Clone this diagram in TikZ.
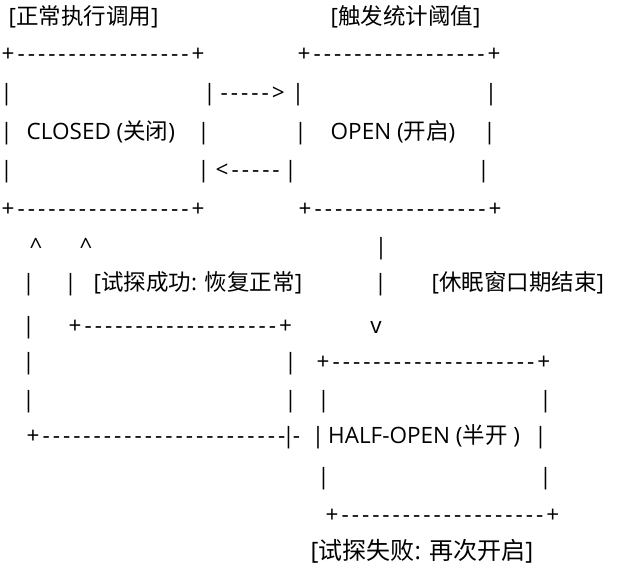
\documentclass[tikz,border=0pt]{standalone}
\usepackage{fontspec}
\usepackage{tikz}
\newfontfamily\latin{Open Sans}
\newfontfamily\zh{Noto Sans CJK SC}
\newfontfamily\rulefont[LetterSpace=13.3]{Open Sans}
\newcommand\sz{\fontsize{22.5}{27}\selectfont}
\newcommand\vb{\makebox[2pt]{|}}
\tikzset{
  txt/.style={anchor=base west, inner sep=0pt, font=\latin\sz},
  caret/.style={anchor=base, inner sep=0pt, font=\latin\sz},
  vbar/.style={anchor=base, inner sep=0pt, font=\latin\sz},
  rule/.style={anchor=base west, inner sep=0pt, font=\rulefont\sz},
}

\begin{document}
\begin{tikzpicture}[x=1pt,y=-1pt]
	\useasboundingbox (0,0) rectangle (625,579);
	
	% notes on top
	\node[txt] (callnote) at (8.5,24) {[{\zh 正常执行调用}]};
	\node[txt] (tripnote) at (330.5,24) {[{\zh 触发统计阈值}]};
	
	% CLOSED and OPEN boxes
	\node[rule] (closedtop) at (1.5,61) {+-----------------+};
	\node[rule] (opentop) at (297.5,61) {+-----------------+};
	\node[vbar] (cl1) at (6.5,100) {\vb};
	\node[vbar] (cr1) at (209.5,100) {\vb};
	\node[rule] (trip) at (220.5,100) {----->};
	\node[vbar] (ol1) at (298,100) {\vb};
	\node[vbar] (or1) at (491,100) {\vb};
	\node[vbar] (cl2) at (6.5,139) {\vb};
	\node[txt] (closed) at (26.5,139) {CLOSED ({\zh 关闭})};
	\node[vbar] (cr2) at (203.5,139) {\vb};
	\node[vbar] (ol2) at (300.5,139) {\vb};
	\node[txt] (open) at (330.5,139) {OPEN ({\zh 开启})};
	\node[vbar] (or2) at (489.5,139) {\vb};
	\node[vbar] (cl3) at (6.5,177) {\vb};
	\node[vbar] (cr3) at (203.5,177) {\vb};
	\node[rule] (back) at (215.5,177) {<-----};
	\node[vbar] (ol3) at (290.5,177) {\vb};
	\node[vbar] (or3) at (483.5,177) {\vb};
	\node[rule] (closedbot) at (1.5,216) {+-----------------+};
	\node[rule] (openbot) at (298.5,216) {+-----------------+};
	
	% arrows below
	\node[caret] (upa) at (36,254) {\textasciicircum};
	\node[caret] (upb) at (86,254) {\textasciicircum};
	\node[vbar] (down1) at (381,254) {\vb};
	\node[vbar] (upa1) at (28.5,290) {\vb};
	\node[vbar] (upb1) at (70.5,290) {\vb};
	\node[txt] (oknote) at (93.5,290) {[{\zh 试探成功}: {\zh 恢复正常}]};
	\node[vbar] (down2) at (380.5,290) {\vb};
	\node[txt] (sleepnote) at (431.5,290) {[{\zh 休眠窗口期结束}]};
	\node[vbar] (upa2) at (28.5,333) {\vb};
	\node[rule] (oktop) at (68.5,333) {+-------------------+};
	\node[caret] (downv) at (376,333) {v};
	\node[vbar] (upa3) at (28.5,369) {\vb};
	\node[vbar] (okr1) at (290.5,369) {\vb};
	\node[vbar] (upa4) at (28.5,407) {\vb};
	\node[vbar] (okr2) at (290.5,407) {\vb};
	\node[rule] (okbot) at (26.5,443) {+------------------------};
	\node[vbar] (okcorner) at (288.5,443) {\vb};
	\node[caret] (oktail) at (296.5,443) {-};
	
	% HALF-OPEN box
	\node[rule] (halftop) at (316.5,369) {+--------------------+};
	\node[vbar] (hl1) at (323.5,407) {\vb};
	\node[vbar] (hr1) at (545.5,407) {\vb};
	\node[vbar] (hl2) at (318,443) {\vb};
	\node[txt] (half) at (328,443) {HALF-OPEN ({\zh 半开} )};
	\node[vbar] (hr2) at (540.5,443) {\vb};
	\node[vbar] (hl3) at (323.5,484) {\vb};
	\node[vbar] (hr3) at (545.5,484) {\vb};
	\node[rule] (halfbot) at (325.5,522) {+--------------------+};
	\node[txt, font=\latin\fontsize{24}{28}\selectfont] (failnote) at (310.5,559) {[{\zh 试探失败}: {\zh 再次开启}]};
	
\end{tikzpicture}
\end{document}
